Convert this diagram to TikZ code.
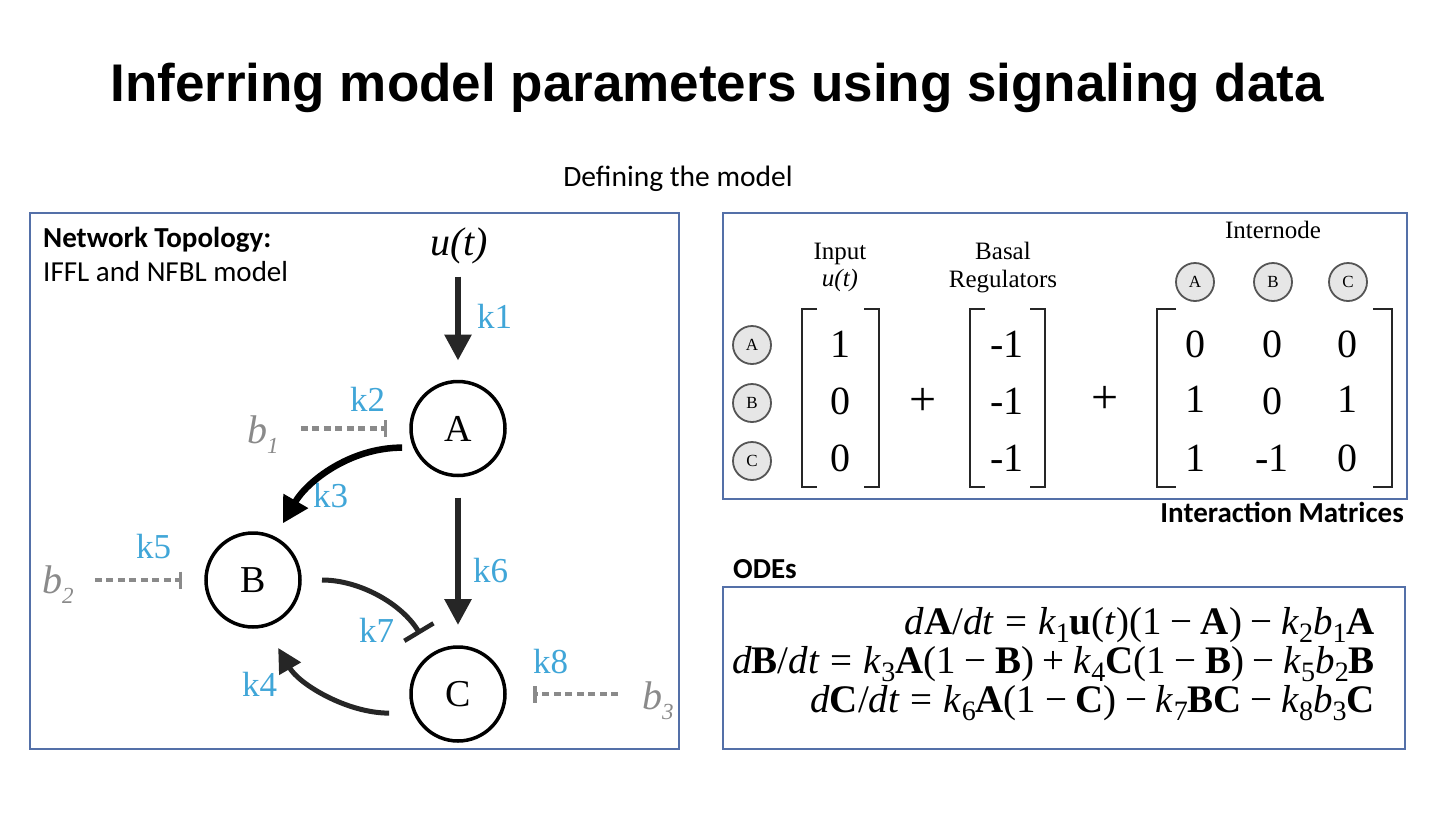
\documentclass[tikz,border=0pt]{standalone}
\usepackage{fontspec}
\usepackage{graphicx}
\setmainfont{Liberation Serif}
\newfontfamily\headfont{Liberation Sans}
\newfontfamily\calfont{Carlito}
\usetikzlibrary{arrows.meta}

\newcommand\fs[1]{\fontsize{#1}{#1}\selectfont}
\newcommand\lowsub[1]{\raisebox{-0.22em}{\scalebox{0.72}{#1}}}
\newcommand\rel[1]{\hspace{0.28em}#1\hspace{0.28em}}
\newcommand\bop[1]{\hspace{0.22em}#1\hspace{0.22em}}
\newcommand\bsub[2]{\textit{#1}\raisebox{-0.25em}{\fs{23}\textit{#2}}}

\definecolor{kblue}{RGB}{64,166,216}
\definecolor{bgray}{RGB}{138,138,138}
\definecolor{framecol}{RGB}{84,112,168}
\definecolor{ink}{RGB}{38,38,38}
\definecolor{cfill}{RGB}{230,230,230}
\definecolor{cedge}{RGB}{85,85,85}

\begin{document}
\begin{tikzpicture}[x=1pt,y=-1pt,
  panel/.style={draw=framecol,line width=1.2pt},
  species/.style={circle,draw=black,line width=3.5pt,minimum size=94pt,inner sep=0pt,outer sep=0pt,font=\fs{38}},
  rate/.style={text=kblue,font=\fs{35},anchor=base west,inner sep=0pt},
  basal/.style={text=bgray,font=\fs{40},anchor=base west,inner sep=0pt},
  act/.style={draw=ink,line width=6pt,-{Triangle[length=26pt,width=26pt]}},
  actc/.style={draw=black,line width=6.5pt,-{Triangle[length=26pt,width=27pt]}},
  actl/.style={draw=ink,line width=5pt,-{Triangle[length=24pt,width=24pt]}},
  inhib/.style={draw=ink,line width=5pt,-{Bar[width=34pt,line width=4.5pt]}},
  basalinh/.style={draw=bgray,line width=4.5pt,dash pattern=on 7pt off 4.5pt,-{Bar[width=17pt,line width=3.5pt]}},
  mini/.style={circle,draw=cedge,fill=cfill,line width=1.8pt,minimum size=38pt,inner sep=0pt,font=\fs{17}},
  entry/.style={font=\fs{40},anchor=base,inner sep=0pt},
  colhead/.style={font=\fs{25},anchor=base,inner sep=0pt},
  brk/.style={draw=ink,line width=2.6pt},
  heading/.style={font=\calfont\bfseries\fs{29},inner sep=0pt},
  eqblock/.style={font={\fs{39}\lineskiplimit=-60pt},align=right,anchor=east,inner sep=0pt}
]
\fill[white] (0,0) rectangle (1444,812);
\useasboundingbox (0,0) rectangle (1444,812);

% title and subtitle
\node[font=\headfont\bfseries\fs{53},anchor=base,inner sep=0pt] (title) at (717,101) {Inferring model parameters using signaling data};
\node[font=\calfont\fs{29.5},anchor=base,inner sep=0pt] (subtitle) at (678,186) {Defining the model};

% panels
\draw[panel] (30,213) rectangle (679,749);
\draw[panel] (723,213) rectangle (1407,499);
\draw[panel] (723,587) rectangle (1405,749);

% ---- network topology ----
\node[heading,anchor=base west] (nettitle) at (43,247) {Network Topology:};
\node[font=\calfont\fs{29},anchor=base west,inner sep=0pt] (netsub) at (43,281) {IFFL and NFBL model};

\node[font=\itshape\fs{40},anchor=base,inner sep=0pt] (ut) at (459,255) {u(t)};
\node[species] (A) at (458,428.5) {A};
\node[species] (B) at (253,580) {B};
\node[species] (C) at (458,694) {C};

\node[basal] (b1) at (247,443) {\bsub{b}{1}};
\node[basal] (b2) at (42,593) {\bsub{b}{2}};
\node[basal] (b3) at (642,709) {\bsub{b}{3}};

\node[rate] (k1) at (477,328) {k1};
\node[rate] (k2) at (350,411) {k2};
\node[rate] (k3) at (313,507) {k3};
\node[rate] (k5) at (136,558) {k5};
\node[rate] (k6) at (473,582) {k6};
\node[rate] (k7) at (359,642) {k7};
\node[rate] (k4) at (242,696) {k4};
\node[rate] (k8) at (533,673) {k8};

% interactions
\draw[act,shorten <=13pt,shorten >=21pt] (ut.south -| A) -- (A);
\draw[act,shorten <=22pt,shorten >=22pt] (A) -- (C);
\draw[actc,shorten <=13pt,shorten >=17pt] (A.204) to[out=180,in=60] (B.63);
\draw[actl,shorten <=26pt,shorten >=26pt] (C.204) to[out=180,in=-60] (B.285);
\draw[inhib,shorten <=22pt,shorten >=24pt] (B.0) to[out=0,in=121] (C.123);

% basal degradation
\draw[basalinh,shorten <=22pt,shorten >=24pt] (b1.east |- A) -- (A);
\draw[basalinh,shorten <=21pt,shorten >=24pt] (b2.east |- B) -- (B);
\draw[basalinh,shorten <=24pt,shorten >=28pt] (b3.west |- C) -- (C);

% ---- interaction matrices ----
\node[colhead] (inhead) at (840,259) {Input};
\node[colhead,font=\itshape\fs{25}] (inu) at (840,286) {u(t)};
\node[colhead] (bahead) at (1003,259) {Basal};
\node[colhead] (bahead2) at (1003,287) {Regulators};
\node[colhead] (ihead) at (1273,238) {Internode};

\node[mini] (rA) at (752,345) {A};
\node[mini] (rB) at (752,403) {B};
\node[mini] (rC) at (752,461) {C};
\node[mini] (cA) at (1195,282) {A};
\node[mini] (cB) at (1273,282) {B};
\node[mini] (cC) at (1348,282) {C};

% brackets
\draw[brk] (817,309) -- (802,309) -- (802,487) -- (817,487);
\draw[brk] (864,309) -- (879,309) -- (879,487) -- (864,487);
\draw[brk] (985,309) -- (970,309) -- (970,487) -- (985,487);
\draw[brk] (1030,309) -- (1045,309) -- (1045,487) -- (1030,487);
\draw[brk] (1176,309) -- (1157,309) -- (1157,487) -- (1176,487);
\draw[brk] (1373,309) -- (1392,309) -- (1392,487) -- (1373,487);

\node[font=\fs{48},inner sep=0pt] (plus1) at (923,402) {+};
\node[font=\fs{48},inner sep=0pt] (plus2) at (1105,400) {+};

\node[entry] (u1) at (840,357) {1};
\node[entry] (u2) at (840,414) {0};
\node[entry] (u3) at (840,471) {0};
\node[entry] (r1) at (1007,357) {-1};
\node[entry] (r2) at (1007,414) {-1};
\node[entry] (r3) at (1007,471) {-1};
\node[entry] (m11) at (1195,357) {0};
\node[entry] (m12) at (1272,357) {0};
\node[entry] (m13) at (1347,357) {0};
\node[entry] (m21) at (1195,412) {1};
\node[entry] (m22) at (1272,414) {0};
\node[entry] (m23) at (1347,412) {1};
\node[entry] (m31) at (1195,471) {1};
\node[entry] (m32) at (1272,471) {-1};
\node[entry] (m33) at (1347,471) {0};

\node[heading,anchor=base east] (imtitle) at (1404,522) {Interaction Matrices};

% ---- ODEs ----
\node[heading,anchor=base west] (odetitle) at (733,578) {ODEs};
\node[eqblock] (odes) at (1375,664) {%
\textit{d}\textbf{A}/\textit{dt}\rel{=}\textit{k}\lowsub{1}\textbf{u}(\textit{t})(1\bop{−}\textbf{A})\bop{−}\textit{k}\lowsub{2}\textit{b}\lowsub{1}\textbf{A}\\
\textit{d}\textbf{B}/\textit{dt}\rel{=}\textit{k}\lowsub{3}\textbf{A}(1\bop{−}\textbf{B})\bop{+}\textit{k}\lowsub{4}\textbf{C}(1\bop{−}\textbf{B})\bop{−}\textit{k}\lowsub{5}\textit{b}\lowsub{2}\textbf{B}\\
\textit{d}\textbf{C}/\textit{dt}\rel{=}\textit{k}\lowsub{6}\textbf{A}(1\bop{−}\textbf{C})\bop{−}\textit{k}\lowsub{7}\textbf{BC}\bop{−}\textit{k}\lowsub{8}\textit{b}\lowsub{3}\textbf{C}};
\end{tikzpicture}
\end{document}
